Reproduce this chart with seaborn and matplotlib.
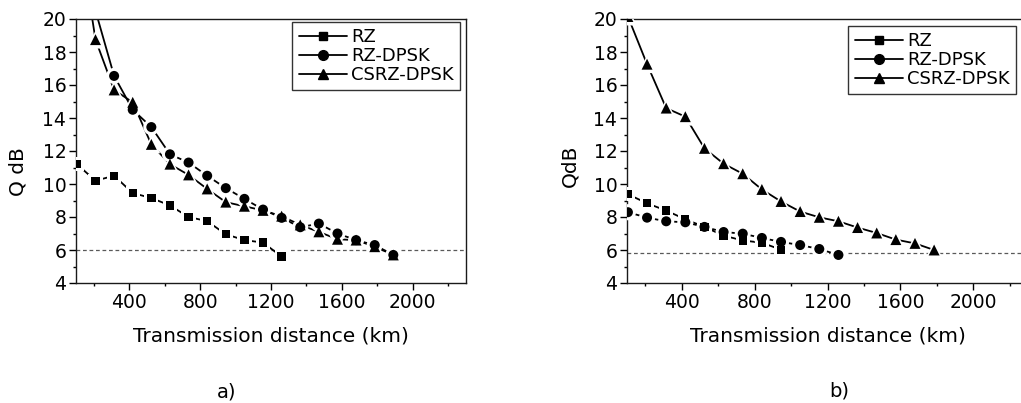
import pandas as pd
import matplotlib
matplotlib.use("Agg")
import matplotlib.pyplot as plt
from matplotlib.lines import Line2D
from matplotlib.ticker import MultipleLocator
import seaborn as sns

# --- data (Q in dB vs distance in km) ---
formats = ["RZ", "RZ-DPSK", "CSRZ-DPSK"]

# panel a)
km_rz_a = [105, 210, 315, 420, 525, 630, 735, 840, 945, 1050, 1155, 1260]
q_rz_a = [11.2, 10.2, 10.5, 9.45, 9.15, 8.7, 8.0, 7.75, 6.95, 6.6, 6.45, 5.6]
km_rzdpsk_a = [105, 210, 315, 420, 525, 630, 735, 840, 945, 1050, 1155, 1260,
               1365, 1470, 1575, 1680, 1785, 1890]
q_rzdpsk_a = [25.0, 20.5, 16.55, 14.5, 13.45, 11.8, 11.3, 10.5, 9.75, 9.1, 8.45, 7.95,
              7.38, 7.6, 7.0, 6.6, 6.3, 5.7]
km_csrz_a = [105, 210, 315, 420, 525, 630, 735, 840, 945, 1050, 1155, 1260,
             1365, 1470, 1575, 1680, 1785, 1890]
q_csrz_a = [26.0, 18.75, 15.7, 14.95, 12.4, 11.2, 10.55, 9.7, 8.9, 8.65, 8.4, 8.05,
            7.52, 7.1, 6.65, 6.6, 6.2, 5.7]

# panel b)
km_rz_b = [105, 210, 315, 420, 525, 630, 735, 840, 945]
q_rz_b = [9.38, 8.83, 8.39, 7.86, 7.4, 6.87, 6.58, 6.44, 6.02]
km_rzdpsk_b = [105, 210, 315, 420, 525, 630, 735, 840, 945, 1050, 1155, 1260]
q_rzdpsk_b = [8.29, 7.96, 7.74, 7.68, 7.4, 7.09, 6.99, 6.73, 6.49, 6.3, 6.06, 5.7]
km_csrz_b = [105, 210, 315, 420, 525, 630, 735, 840, 945, 1050, 1155, 1260,
             1365, 1470, 1575, 1680, 1785]
q_csrz_b = [20.15, 17.26, 14.6, 14.08, 12.16, 11.23, 10.62, 9.67, 8.94, 8.33, 7.98, 7.74,
            7.36, 7.03, 6.63, 6.4, 6.0]

threshold_a = 6.0
threshold_b = 5.8


def make_df(series):
    rows = []
    for name, kms, qs in series:
        for k, q in zip(kms, qs):
            rows.append({"km": k, "Q": q, "fmt": name})
    return pd.DataFrame(rows)


df_a = make_df([("RZ", km_rz_a, q_rz_a), ("RZ-DPSK", km_rzdpsk_a, q_rzdpsk_a),
                ("CSRZ-DPSK", km_csrz_a, q_csrz_a)])
df_b = make_df([("RZ", km_rz_b, q_rz_b), ("RZ-DPSK", km_rzdpsk_b, q_rzdpsk_b),
                ("CSRZ-DPSK", km_csrz_b, q_csrz_b)])

sns.set_style("ticks")
plt.rcParams["font.family"] = ["DejaVu Sans"]
plt.rcParams["text.color"] = "black"
plt.rcParams["axes.labelcolor"] = "black"
plt.rcParams["xtick.color"] = "black"
plt.rcParams["ytick.color"] = "black"

markers = {"RZ": "s", "RZ-DPSK": "o", "CSRZ-DPSK": "^"}
mk_sizes = {"RZ": 36, "RZ-DPSK": 52, "CSRZ-DPSK": 62}
halo_sizes = {"RZ": 105, "RZ-DPSK": 135, "CSRZ-DPSK": 165}
black = {f: "black" for f in formats}


def draw_panel(ax, df, thr, ylab):
    # lines, then white halo (gap round each marker, like Origin), then the markers
    sns.lineplot(data=df, x="km", y="Q", hue="fmt", palette=black, sort=False,
                 legend=False, linewidth=1.3, zorder=2, ax=ax)
    sns.scatterplot(data=df, x="km", y="Q", style="fmt", markers=markers,
                    size="fmt", sizes=halo_sizes, color="white", linewidth=0,
                    legend=False, zorder=3, ax=ax)
    sns.scatterplot(data=df, x="km", y="Q", style="fmt", markers=markers,
                    size="fmt", sizes=mk_sizes, color="black", linewidth=0,
                    legend=False, zorder=4, ax=ax)
    ax.axhline(thr, color="0.35", lw=0.9, ls=(0, (3, 2.2)), zorder=1)

    ax.set_xlim(100, 2300)
    ax.set_ylim(4, 20)
    ax.xaxis.set_major_locator(MultipleLocator(400))
    ax.xaxis.set_minor_locator(MultipleLocator(200))
    ax.yaxis.set_major_locator(MultipleLocator(2))
    ax.yaxis.set_minor_locator(MultipleLocator(1))
    ax.set_xticks([400, 800, 1200, 1600, 2000])
    ax.tick_params(which="major", length=5, width=1, labelsize=13.5, pad=2,
                   top=False, right=False, colors="black")
    ax.tick_params(which="minor", length=2.5, width=1, top=False, right=False,
                   colors="black")
    for s in ax.spines.values():
        s.set_linewidth(1.0)
        s.set_color("0.1")

    ax.set_xlabel("Transmission distance (km)", fontsize=14.5)
    ax.set_ylabel(ylab, fontsize=14.5)
    ax.xaxis.set_label_coords(0.5, -0.165)

    handles = [Line2D([], [], color="black", lw=1.3, marker=markers[f],
                      markersize={"RZ": 6, "RZ-DPSK": 7, "CSRZ-DPSK": 7.5}[f])
               for f in formats]
    leg = ax.legend(handles, formats, loc="upper right", fontsize=13,
                    handlelength=2.7, handletextpad=0.2, labelspacing=0.05,
                    borderpad=0.35, borderaxespad=0, frameon=True, fancybox=False)
    leg.get_frame().set_edgecolor("black")
    leg.get_frame().set_linewidth(1.0)
    return leg


fig = plt.figure(figsize=(10.21, 4.03), dpi=100)
W, H = 1021, 403
ax_a = fig.add_axes([76 / W, 1 - 283 / H, 390 / W, 264 / H])
ax_b = fig.add_axes([627 / W, 1 - 283 / H, 401 / W, 264 / H])

leg_a = draw_panel(ax_a, df_a, threshold_a, "Q dB")
leg_b = draw_panel(ax_b, df_b, threshold_b, "QdB")
leg_a.set_bbox_to_anchor((460 / W, 1 - 22 / H), transform=fig.transFigure)
leg_b.set_bbox_to_anchor((1016 / W, 1 - 26 / H), transform=fig.transFigure)

ax_a.yaxis.set_label_coords(-0.125, 0.42)
ax_b.yaxis.set_label_coords(-0.12, 0.443)

fig.text(227 / W, 1 - 392 / H, "a)", ha="center", va="center", fontsize=14)
fig.text(839 / W, 1 - 391 / H, "b)", ha="center", va="center", fontsize=14)

fig.savefig("out.png", dpi=100)
